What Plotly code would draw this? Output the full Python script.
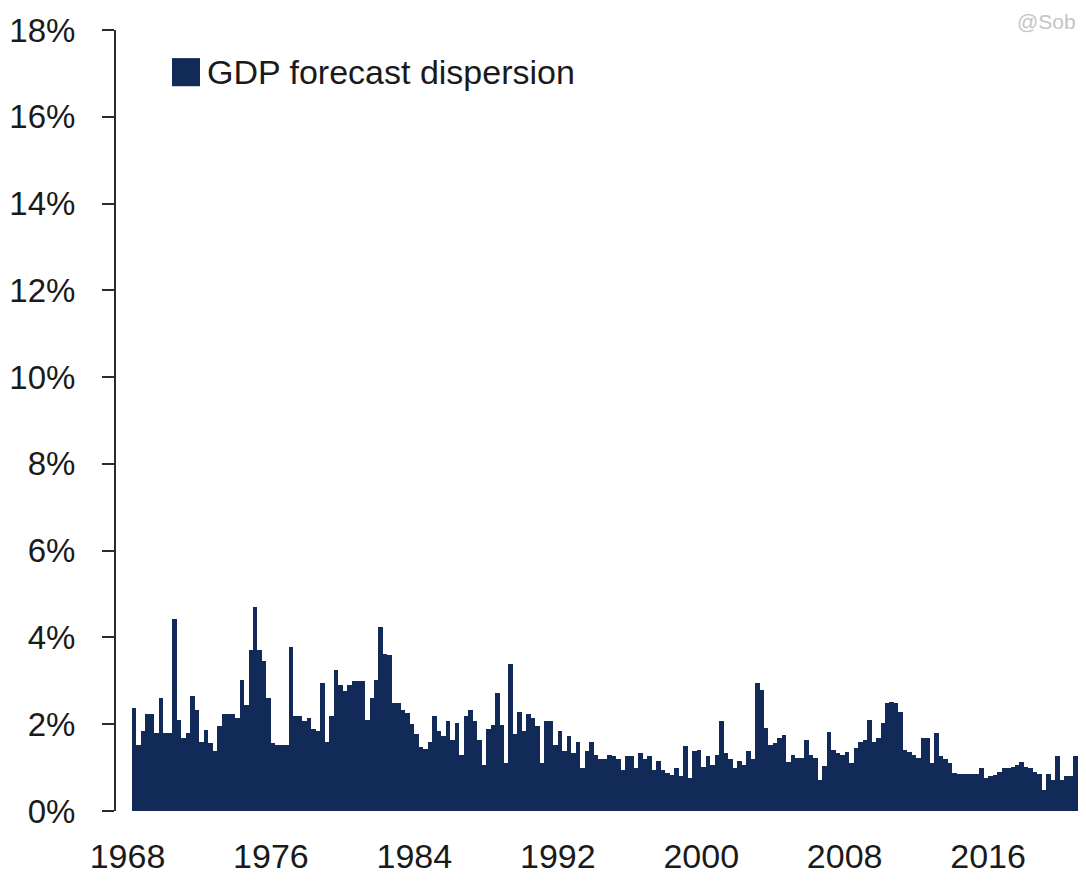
import pandas as pd
import plotly.graph_objects as go

# ----------------------------
# Data: quarterly GDP forecast dispersion (%), from 1968Q2
# ----------------------------
first_quarter = "1968Q2"

dispersion = [
    # 1968-1976
    2.37, 1.52, 1.84, 2.23, 2.23, 1.80, 2.60, 1.80, 1.80, 4.43, 2.10, 1.68,
    1.80, 2.64, 2.33, 1.60, 1.87, 1.57, 1.38, 1.95, 2.23, 2.23, 2.23, 2.15,
    3.02, 2.44, 3.71, 4.71, 3.71, 3.45, 2.60, 1.57, 1.52, 1.52, 1.52, 3.79,
    # 1977-1985
    2.18, 2.18, 2.07, 2.15, 1.90, 1.84, 2.94, 1.60, 2.20, 3.25, 2.90, 2.76,
    2.90, 2.99, 2.99, 2.99, 2.10, 2.60, 3.03, 4.25, 3.63, 3.60, 2.48, 2.48,
    2.33, 2.26, 2.00, 1.78, 1.47, 1.44, 1.60, 2.18, 1.84, 1.72, 2.07,
    # 1985-1994
    1.64, 2.02, 1.29, 2.18, 2.33, 2.07, 1.64, 1.06, 1.90, 1.98, 2.71, 1.98,
    1.10, 3.38, 1.78, 2.29, 1.84, 2.23, 2.15, 1.95, 1.10, 2.07, 2.07, 1.52,
    1.84, 1.38, 1.72, 1.33, 1.60, 0.98, 1.38, 1.60, 1.29, 1.21, 1.21, 1.29,
    # 1994-2003
    1.26, 1.21, 0.95, 1.26, 1.26, 0.98, 1.33, 1.21, 1.26, 0.95, 1.15, 0.95,
    0.87, 0.84, 0.98, 0.80, 1.49, 0.77, 1.38, 1.41, 1.02, 1.26, 1.06, 1.29,
    2.07, 1.33, 1.21, 0.98, 1.15, 1.06, 1.38, 1.21, 2.94, 2.79, 1.91, 1.52,
    # 2003-2012
    1.56, 1.68, 1.75, 1.14, 1.29, 1.22, 1.22, 1.64, 1.29, 1.22, 0.72, 1.03,
    1.83, 1.41, 1.33, 1.29, 1.37, 1.10, 1.45, 1.60, 1.64, 2.10, 1.60, 1.68,
    2.02, 2.48, 2.52, 2.48, 2.29, 1.41, 1.37, 1.29, 1.22, 1.68, 1.68,
    # 2012-2021
    1.10, 1.80, 1.26, 1.20, 1.10, 0.87, 0.85, 0.85, 0.85, 0.85, 0.85, 0.98,
    0.76, 0.80, 0.83, 0.91, 1.00, 1.00, 1.02, 1.05, 1.13, 1.02, 1.00, 0.91,
    0.85, 0.49, 0.85, 0.72, 1.26, 0.72, 0.81, 0.81, 1.26, 0.79, 0.79,
]

quarters = pd.period_range(first_quarter, periods=len(dispersion), freq="Q")
year_ticks = [1968, 1976, 1984, 1992, 2000, 2008, 2016]

# bar centre as decimal year
x_pos = [p.year + (p.quarter - 1) / 4 + 0.125 for p in quarters]

NAVY = "#122a58"
AXIS = "#2b2b2b"
FONT = "Liberation Sans Narrow, Arial Narrow, Liberation Sans, Arial, sans-serif"

fig = go.Figure()

fig.add_trace(
    go.Bar(
        x=x_pos,
        y=dispersion,
        width=0.25,
        marker=dict(color=NAVY, line=dict(width=0)),
        customdata=[str(p) for p in quarters],
        hovertemplate="%{customdata}: %{y:.2f}%<extra></extra>",
        name="GDP forecast dispersion",
        showlegend=False,
    )
)

# ----------------------------
# Legend (drawn by hand so the swatch is large)
# ----------------------------
fig.add_shape(
    type="rect", xref="paper", yref="paper",
    x0=0.0577, x1=0.0866, y0=0.928, y1=0.964,
    fillcolor=NAVY, line=dict(width=0),
)
fig.add_annotation(
    text="GDP forecast dispersion",
    xref="paper", yref="paper", x=0.0918, y=0.946,
    xanchor="left", yanchor="middle", showarrow=False,
    font=dict(size=34, color="#1a1a1a", family=FONT),
)

# watermark in the top-right corner
fig.add_annotation(
    text="@Sob",
    xref="paper", yref="paper", x=0.992, y=1.0105,
    xanchor="right", yanchor="middle", showarrow=False,
    font=dict(size=21, color="#c4c4c4", family="Liberation Sans, Arial"),
)

# page body has an 8px margin, so the figure is shrunk to avoid scrolling
fig.update_layout(
    width=1078,
    height=866,
    template="plotly_white",
    plot_bgcolor="white",
    paper_bgcolor="white",
    bargap=0,
    margin=dict(l=108, r=0, t=22, b=63),
    font=dict(family=FONT, color="#1a1a1a"),
    xaxis=dict(
        range=[1967.36, 2021.46],
        tickmode="array",
        tickvals=year_ticks,
        ticktext=[str(y) for y in year_ticks],
        showgrid=False,
        zeroline=False,
        showline=False,
        ticks="",
        ticklabelstandoff=22,
        tickfont=dict(size=34, family=FONT),
    ),
    yaxis=dict(
        range=[0, 18],
        dtick=2,
        ticksuffix="%",
        showgrid=False,
        zeroline=False,
        showline=True,
        linecolor=AXIS,
        linewidth=2,
        ticks="outside",
        ticklen=12,
        tickwidth=2,
        tickcolor=AXIS,
        ticklabelstandoff=20,
        tickfont=dict(size=33, family=FONT),
    ),
)

fig.write_html("out.html")
